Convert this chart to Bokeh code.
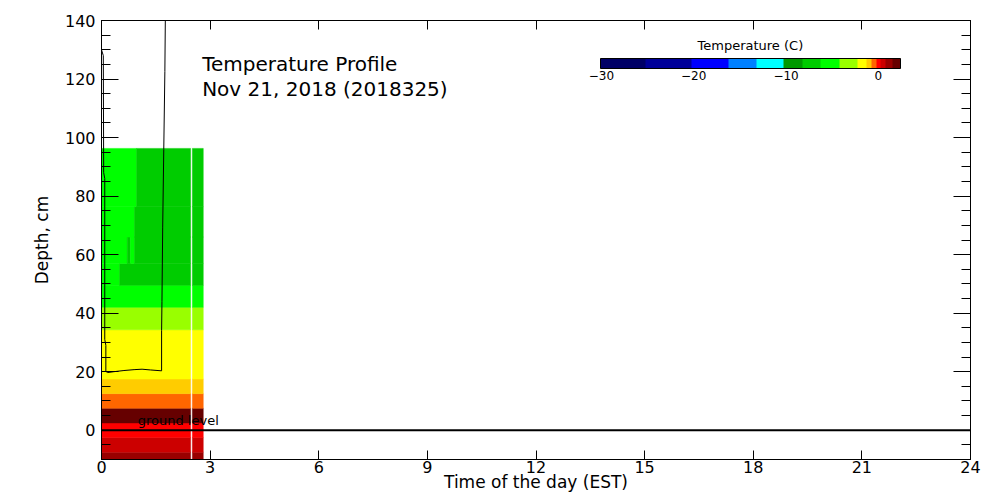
import numpy as np
from bokeh.plotting import figure
from bokeh.models import (Range1d, LinearAxis, SingleIntervalTicker, FixedTicker, Span, Label,
                          ColorBar, LinearColorMapper, CustomJSTickFormatter, ColumnDataSource)
from bokeh.embed import file_html
from bokeh.resources import INLINE

# ---------------- data ----------------
# colour scale (temperature level boundaries, deg C) and colours
temp_levels = [-30.1, -25.25, -20.25, -16.25, -13.25, -10.25, -8.25, -6.25, -4.25,
               -2.25, -1.25, -0.75, -0.25, 0.25, 0.75, 1.5, 2.4]
temp_colors = ["#000066", "#000099", "#0000ff", "#0080ff", "#00ffff", "#009900",
               "#00cc00", "#00ff00", "#99ff00", "#ffff00", "#ffcc00", "#ff6600",
               "#ff0000", "#cc0000", "#990000", "#660000"]
colorbar_ticks = [-30, -20, -10, 0]

# temperature profile grid: time (h, EST) and depth (cm) cell edges
time_edges = [0.0, 0.5, 0.71, 0.80, 0.91, 0.97, 2.46, 2.51, 2.81]
depth_edges = [-10, -7.5, -2.5, 2.5, 7.5, 12.5, 17.5, 34.3, 42.0, 49.5, 57.0, 66.0, 76.4, 96.3]
N = np.nan
temperature = [  # rows from bottom (deepest) to top, one value per time cell
    [1.0, 1.0, 1.0, 1.0, 1.0, 1.0, N, 1.0],
    [0.5, 0.5, 0.5, 0.5, 0.5, 0.5, N, 0.5],
    [0.0, 0.0, 0.0, 0.0, 0.0, 0.0, N, 0.0],
    [1.8, 1.8, 1.8, 1.8, 1.8, 1.8, N, 1.8],
    [-0.5, -0.5, -0.5, -0.5, -0.5, -0.5, N, -0.5],
    [-1.0, -1.0, -1.0, -1.0, -1.0, -1.0, N, -1.0],
    [-1.7, -1.7, -1.7, -1.7, -1.7, -1.7, N, -1.7],
    [-3.0, -3.0, -3.0, -3.0, -3.0, -3.0, N, -3.0],
    [-5.0, -5.0, -5.0, -5.0, -5.0, -5.0, N, -5.0],
    [-5.0, -7.0, -7.0, -7.0, -7.0, -7.0, N, -7.0],
    [-5.0, -5.0, -7.0, -5.0, -7.0, -7.0, N, -7.0],
    [-5.0, -5.0, -5.0, -5.0, -7.0, -7.0, N, -7.0],
    [-5.0, -5.0, -5.0, -5.0, -5.0, -7.0, N, -7.0],
]

# black trace (snow surface / sensor height, cm)
line_time = [0.0, 0.0, 0.05, 0.06, 0.09, 0.09, 0.12, 0.12, 0.17, 0.34, 0.62, 0.9,
             1.12, 1.35, 1.66, 1.66, 1.67, 1.69, 1.72, 1.75, 1.77]
line_depth = [150, 130, 128, 88, 86, 31, 29, 20.1, 19.7, 20.0, 20.4, 20.7,
              20.85, 20.6, 20.3, 34, 44, 69.4, 96, 122.6, 150]

ground_level = 0.0
x_ticks_interval = 3
y_ticks_interval = 20

FONT = "DejaVu Sans"

# ---------------- figure ----------------
p = figure(width=1000, height=500, output_backend="svg", toolbar_location=None,
           x_range=Range1d(0, 24), y_range=Range1d(-10, 140),
           min_border_left=101, min_border_right=30, min_border_top=20, min_border_bottom=41)
p.xgrid.visible = False
p.ygrid.visible = False
p.outline_line_color = "black"
p.outline_line_width = 1
p.background_fill_color = "white"
p.border_fill_color = "white"

# heat-map cells (adjacent equal cells of a row merged)
lefts, rights, bottoms, tops, colors = [], [], [], [], []
for i, row in enumerate(temperature):
    j = 0
    while j < len(row):
        t = row[j]
        if np.isnan(t):
            j += 1
            continue
        j2 = j
        while j2 + 1 < len(row) and row[j2 + 1] == t:
            j2 += 1
        k = int(np.clip(np.digitize(t, temp_levels) - 1, 0, len(temp_colors) - 1))
        lefts.append(time_edges[j]); rights.append(time_edges[j2 + 1])
        bottoms.append(depth_edges[i]); tops.append(depth_edges[i + 1])
        colors.append(temp_colors[k])
        j = j2 + 1
src = ColumnDataSource(dict(left=lefts, right=rights, bottom=bottoms, top=tops, color=colors))
p.quad(left="left", right="right", bottom="bottom", top="top", fill_color="color",
       line_color="color", line_width=0.5, source=src)

p.line(line_time, line_depth, line_color="black", line_width=1)

p.add_layout(Span(location=ground_level, dimension="width", line_color="black", line_width=2))
p.add_layout(Label(x=1.0, y=3.2, text="ground level", text_font=FONT, text_font_size="13px",
                   text_color="black", text_baseline="alphabetic"))

# axes
ax = p.xaxis[0]
ax.ticker = SingleIntervalTicker(interval=x_ticks_interval, num_minor_ticks=0)
ax.major_tick_in = 9; ax.major_tick_out = 0
ax.minor_tick_line_color = None
ax.major_label_standoff = 1
ax.major_label_text_font = FONT; ax.major_label_text_font_size = "16px"
ax.major_label_text_color = "black"; ax.axis_line_color = "black"; ax.major_tick_line_color = "black"
ax.axis_label = "Time of the day (EST)"
ax.axis_label_text_font = FONT; ax.axis_label_text_font_size = "17px"
ax.axis_label_text_font_style = "normal"; ax.axis_label_text_color = "black"
ax.axis_label_standoff = -4

ay = p.yaxis[0]
ay.ticker = SingleIntervalTicker(interval=y_ticks_interval, num_minor_ticks=4)
ay.major_tick_in = 17; ay.major_tick_out = 0
ay.minor_tick_in = 9; ay.minor_tick_out = 0
ay.major_label_standoff = 6
ay.major_label_text_font = FONT; ay.major_label_text_font_size = "16px"
ay.major_label_text_color = "black"; ay.axis_line_color = "black"
ay.major_tick_line_color = "black"; ay.minor_tick_line_color = "black"
ay.axis_label = "Depth, cm"
ay.axis_label_text_font = FONT; ay.axis_label_text_font_size = "17px"
ay.axis_label_text_font_style = "normal"; ay.axis_label_text_color = "black"
ay.axis_label_standoff = 10

ry = LinearAxis(ticker=SingleIntervalTicker(interval=y_ticks_interval, num_minor_ticks=4),
                formatter=CustomJSTickFormatter(code="return ''"),
                major_tick_in=17, major_tick_out=0, minor_tick_in=9, minor_tick_out=0,
                major_label_standoff=0, major_label_text_font_size="0px",
                axis_line_color="black", major_tick_line_color="black", minor_tick_line_color="black")
p.add_layout(ry, "right")
tx = LinearAxis(ticker=SingleIntervalTicker(interval=x_ticks_interval, num_minor_ticks=0),
                formatter=CustomJSTickFormatter(code="return ''"), major_tick_in=9, major_tick_out=0,
                minor_tick_line_color=None, major_label_standoff=0, major_label_text_font_size="0px",
                axis_line_color="black", major_tick_line_color="black")
p.add_layout(tx, "above")

# plot titles
p.add_layout(Label(x=2.78, y=125.2, text="Temperature Profile", text_font=FONT, text_font_size="20px",
                   text_baseline="alphabetic", text_color="black"))
p.add_layout(Label(x=2.78, y=116.7, text="Nov 21, 2018 (2018325)", text_font=FONT, text_font_size="20px",
                   text_baseline="alphabetic", text_color="black"))

# colour bar
res = 0.05
n = int(round((temp_levels[-1] - temp_levels[0]) / res))
centers = temp_levels[0] + (np.arange(n) + 0.5) * res
idx = np.clip(np.digitize(centers, temp_levels) - 1, 0, len(temp_colors) - 1)
palette = [temp_colors[i] for i in idx]
mapper = LinearColorMapper(palette=palette, low=temp_levels[0], high=temp_levels[-1])
cb = ColorBar(color_mapper=mapper, orientation="horizontal", width=300, height=10,
              location=(499, 377), padding=0, ticker=FixedTicker(ticks=colorbar_ticks),
              major_label_text_font=FONT, major_label_text_font_size="12px",
              major_label_text_color="black", label_standoff=2,
              major_tick_line_color=None, major_tick_in=0, major_tick_out=0,
              minor_tick_line_color=None,
              bar_line_color="black", border_line_color=None, background_fill_color=None)
p.add_layout(cb, "center")
p.add_layout(Label(x=17.92, y=131.5, text="Temperature (C)", text_font=FONT, text_font_size="13px",
                   text_align="center", text_baseline="alphabetic", text_color="black"))

open("out.html", "w").write(file_html(p, INLINE))
